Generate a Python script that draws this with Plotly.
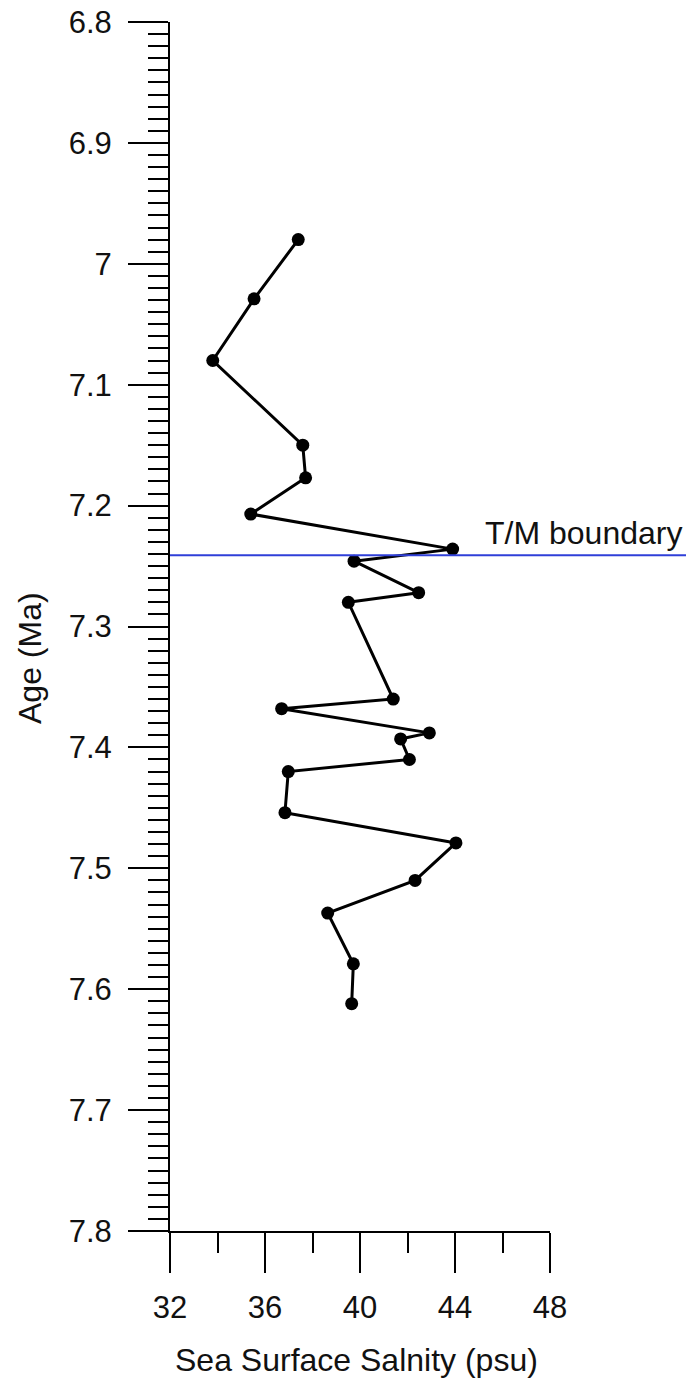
import plotly.graph_objects as go

# Data
age_ma = [6.980, 7.029, 7.080, 7.150, 7.177, 7.207, 7.236, 7.246, 7.272, 7.280,
          7.360, 7.368, 7.388, 7.393, 7.410, 7.420, 7.454, 7.479, 7.510, 7.537,
          7.579, 7.612]
salinity_psu = [37.40, 35.54, 33.80, 37.59, 37.71, 35.40, 43.90, 39.75, 42.47, 39.51,
                41.40, 36.70, 42.92, 41.71, 42.08, 36.98, 36.84, 44.04, 42.32, 38.64,
                39.72, 39.65]

boundary_age = 7.241
boundary_label = "T/M boundary"

y_tickvals = [6.8, 6.9, 7.0, 7.1, 7.2, 7.3, 7.4, 7.5, 7.6, 7.7, 7.8]
y_ticktext = ["6.8", "6.9", "7", "7.1", "7.2", "7.3", "7.4", "7.5", "7.6", "7.7", "7.8"]
x_tickvals = [32, 36, 40, 44, 48]
x_ticktext = ["32", "36", "40", "44", "48"]

x_title = "Sea Surface Salnity (psu)"
y_title = "Age (Ma)"

FONT = "Liberation Sans, Arial, sans-serif"
W, H = 686, 1378
ML, MR, MT, MB = 170, 136, 22, 147
PW = W - ML - MR
PH = H - MT - MB

fig = go.Figure()
fig.add_trace(go.Scatter(
    x=salinity_psu, y=age_ma, mode="lines+markers",
    line=dict(color="black", width=3),
    marker=dict(color="black", size=13),
    showlegend=False, cliponaxis=False,
))

fig.add_shape(type="line", xref="paper", yref="y",
              x0=0, x1=(W - ML) / PW, y0=boundary_age, y1=boundary_age,
              line=dict(color="#2f3fd8", width=2))

fig.add_annotation(text=boundary_label, xref="paper", yref="paper",
                   x=(483 - ML) / PW, y=(MT + PH - 533) / PH,
                   xanchor="left", yanchor="middle", showarrow=False,
                   font=dict(family=FONT, size=32, color="#111"))

fig.add_annotation(text=y_title, xref="paper", yref="paper", textangle=-90,
                   x=(30 - ML) / PW, y=(MT + PH - 658) / PH,
                   xanchor="center", yanchor="middle", showarrow=False,
                   font=dict(family=FONT, size=32, color="#111"))

fig.add_annotation(text=x_title, xref="paper", yref="paper",
                   x=(356 - ML) / PW, y=(MT + PH - 1360) / PH,
                   xanchor="center", yanchor="middle", showarrow=False,
                   font=dict(family=FONT, size=32, color="#111"))

fig.update_xaxes(
    range=[32, 48], tickvals=x_tickvals, ticktext=x_ticktext,
    ticks="outside", ticklen=40, tickwidth=2, tickcolor="black",
    showline=True, linecolor="black", linewidth=2, showgrid=False, zeroline=False,
    tickfont=dict(family=FONT, size=31, color="#111"), ticklabelstandoff=8,
    automargin=False,
    minor=dict(ticks="outside", ticklen=20, tickwidth=2, tickcolor="black",
               dtick=2, tick0=32, showgrid=False),
)
fig.update_yaxes(
    range=[7.8, 6.8], tickvals=y_tickvals, ticktext=y_ticktext,
    ticks="outside", ticklen=40, tickwidth=2, tickcolor="black",
    showline=True, linecolor="black", linewidth=2, showgrid=False, zeroline=False,
    tickfont=dict(family=FONT, size=31, color="#111"), ticklabelstandoff=10,
    automargin=False,
    minor=dict(ticks="outside", ticklen=20, tickwidth=2, tickcolor="black",
               dtick=0.01, tick0=6.8, showgrid=False),
)

fig.update_layout(
    width=W, height=H,
    margin=dict(l=ML, r=MR, t=MT, b=MB, autoexpand=False),
    paper_bgcolor="white", plot_bgcolor="white",
    font=dict(family=FONT),
)

fig.write_html(
    "out.html",
    config={"displayModeBar": False},
    post_script="document.body.style.margin='0';document.body.style.overflow='hidden';",
)
